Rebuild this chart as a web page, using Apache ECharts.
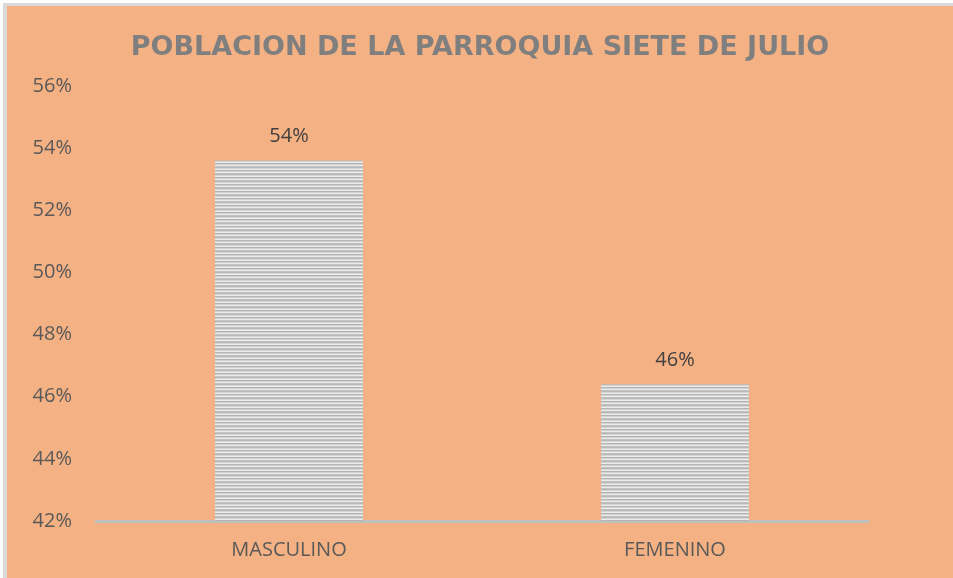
<!DOCTYPE html>
<html>
<head>
<meta charset="utf-8">
<script src="https://cdn.jsdelivr.net/npm/echarts@6/dist/echarts.min.js"></script>
<style>
  html, body { margin: 0; padding: 0; background: #ffffff; }
  .frame {
    position: absolute; left: 3px; top: 3px;
    border-left: 4px solid #d9d9d9; border-top: 3px solid #d9d9d9;
  }
  #chart { width: 946px; height: 572px; }
</style>
</head>
<body>
<div class="frame"><div id="chart"></div></div>
<script>
  // datos
  const categories = ['MASCULINO', 'FEMENINO']
  const values = [0.536, 0.464]
  const axisMin = 0.42
  const axisMax = 0.56
  const axisStep = 0.02

  // textura rayada de las barras
  function stripePattern() {
    const c = document.createElement('canvas')
    c.width = 4
    c.height = 7
    const ctx = c.getContext('2d')
    const rows = ['#b8b8b8', '#d6d6d6', '#ebebeb', '#b3b3b3', '#d2d2d2', '#e9e9e9', '#c2c2c2']
    rows.forEach((col, i) => {
      ctx.fillStyle = col
      ctx.fillRect(0, i, 4, 1)
    })
    return c
  }

  const chart = echarts.init(document.getElementById('chart'))
  const font = '"Open Sans", sans-serif'

  chart.setOption({
    backgroundColor: '#f4b183',
    animation: false,
    title: {
      text: 'POBLACION DE LA PARROQUIA SIETE DE JULIO',
      left: 'center',
      top: 23,
      textStyle: {
        fontFamily: '"DejaVu Sans", sans-serif',
        fontWeight: 'bold',
        fontSize: 27,
        color: '#7f7f7f'
      }
    },
    grid: {
      left: 89,
      right: 85,
      top: 80,
      bottom: 57
    },
    xAxis: {
      type: 'category',
      data: categories,
      axisLine: { lineStyle: { color: '#bfbfbf', width: 3 } },
      axisTick: { show: false },
      axisLabel: {
        margin: 19,
        fontFamily: font,
        fontSize: 20,
        color: '#595959'
      }
    },
    yAxis: {
      type: 'value',
      min: axisMin,
      max: axisMax,
      interval: axisStep,
      splitLine: { show: false },
      axisLine: { show: false },
      axisTick: { show: false },
      axisLabel: {
        margin: 24,
        fontFamily: font,
        fontSize: 20,
        color: '#595959',
        formatter: (v) => Math.round(v * 100) + '%'
      }
    },
    series: [{
      type: 'bar',
      data: values,
      barWidth: 148,
      itemStyle: {
        color: { image: stripePattern(), repeat: 'repeat' }
      },
      label: {
        show: true,
        position: 'top',
        distance: 14,
        fontFamily: font,
        fontSize: 20,
        color: '#404040',
        formatter: (p) => Math.round(p.value * 100) + '%'
      }
    }]
  })
</script>
</body>
</html>
